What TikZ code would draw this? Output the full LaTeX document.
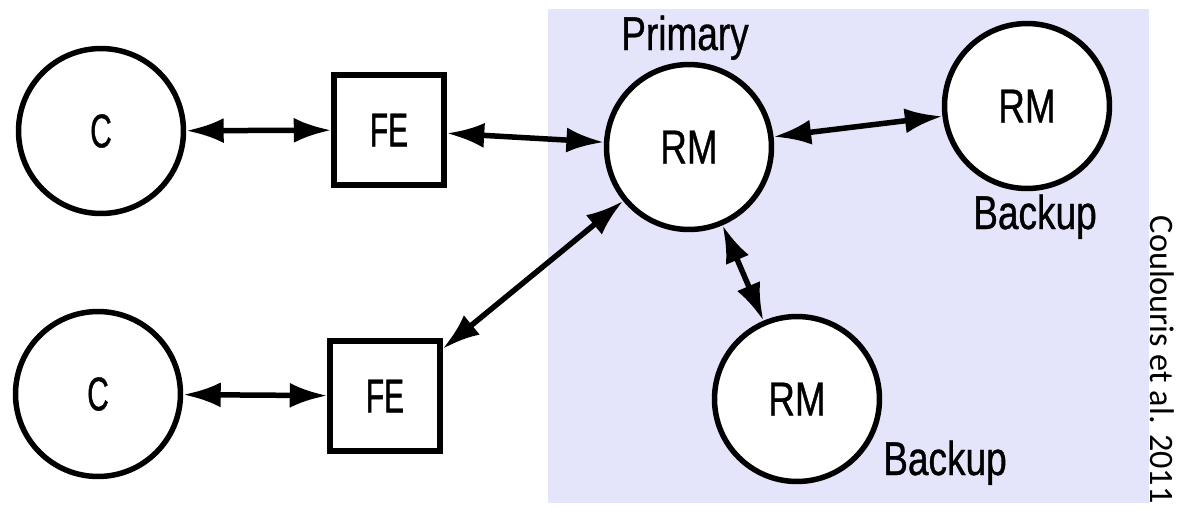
\documentclass[tikz,border=0pt]{standalone}
\usepackage{fontspec}
\setmainfont[FakeStretch=0.78, FakeBold=0.8]{Liberation Sans}
\newfontfamily\condfont[FakeStretch=0.63, FakeBold=0.8]{Liberation Sans}
\newfontfamily\notefont{Carlito}
\usetikzlibrary{arrows.meta}
\usepackage{xcolor}
\definecolor{replbg}{RGB}{228,228,250}

\begin{document}
\begin{tikzpicture}[x=0.02cm, y=-0.02cm, >={Latex[length=0.75cm, width=0.5cm]}, line width=0.11cm, font=\fontsize{27}{30}\selectfont]
			\tikzstyle{round} = [draw=black, fill=white, circle, minimum size=3.3cm, inner sep=0pt]
			\tikzstyle{box} = [draw=black, fill=white, rectangle, minimum size=2.2cm, inner sep=0pt]
			\tikzstyle{tag} = [anchor=base, inner sep=0pt]

			\useasboundingbox (0,0) rectangle (1178,512);
			\fill[replbg] (548,9) rectangle (1149,503);

			\node[round]	at (101, 131)	(c1)	{\condfont C};
			\node[round]	at (98, 394)	(c2)	{\condfont C};
			\node[box]		at (389, 130)	(fe1)	{\condfont FE};
			\node[box]		at (385, 396)	(fe2)	{\condfont FE};
			\node[round]	at (689, 147)	(rm1)	{RM};
			\node[round]	at (1027, 106)	(rm2)	{RM};
			\node[round]	at (797, 399)	(rm3)	{RM};

			\node[tag]		at (685, 50)	(prim)	{Primary};
			\node[tag]		at (1035, 229)	(bak2)	{Backup};
			\node[tag]		at (945, 475)	(bak3)	{Backup};

			\node[rotate=-90, anchor=base west, inner sep=0pt, font=\notefont\fontsize{19.5}{22}\selectfont]
				at (1150, 213) (cite) {Coulouris et al. 2011};

			\path[<->]
			(c1)	edge	(fe1)
			(c2)	edge	(fe2)
			(fe1)	edge	(rm1)
			(fe2)	edge	(rm1)
			(rm1)	edge	(rm2)
			(rm1)	edge	(rm3);
		\end{tikzpicture}
\end{document}
